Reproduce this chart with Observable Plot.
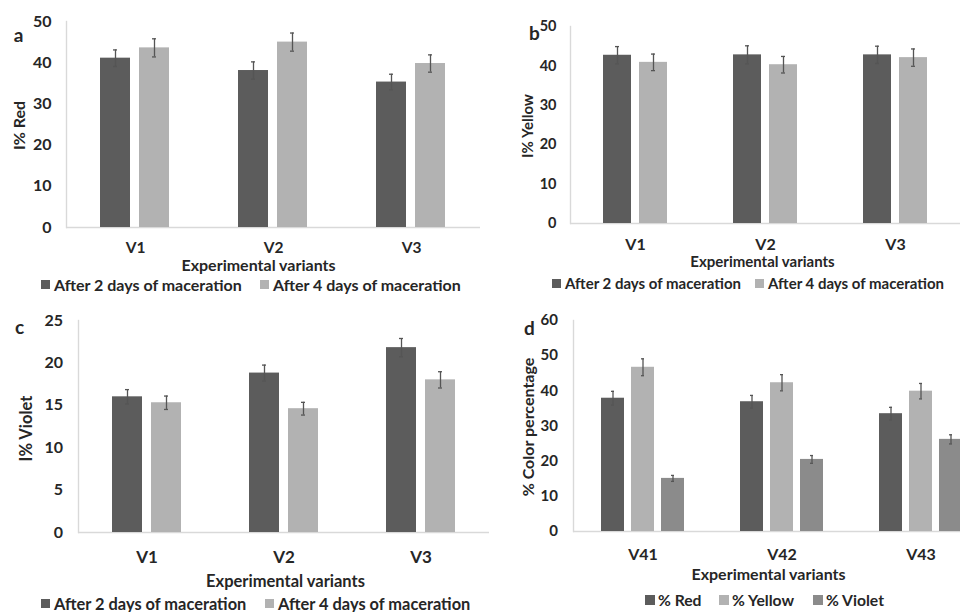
<!DOCTYPE html>
<html>
<head>
<meta charset="utf-8">
<script src="https://cdn.jsdelivr.net/npm/d3@7"></script>
<script src="https://cdn.jsdelivr.net/npm/@observablehq/plot@0.6"></script>
<style>
  html, body { margin: 0; padding: 0; background: #fff; }
  #root { position: relative; width: 960px; height: 612px; overflow: hidden; background: #fff; font-family: Lato, sans-serif; font-weight: bold; color: #262626; }
  .lg { position: absolute; display: flex; align-items: center; white-space: nowrap; }
  .sw { display: inline-block; }
</style>
</head>
<body>
<div id="root"></div>
<script>
// ---------- data ----------
const variantsABC = ["V1", "V2", "V3"];
const variantsD = ["V41", "V42", "V43"];
const seriesMac = ["After 2 days of maceration", "After 4 days of maceration"];
const seriesColor = ["% Red", "% Yellow", "% Violet"];

// panel a: I% Red
const redDay2 = [41.1, 38.1, 35.3];
const redDay4 = [43.6, 45.0, 39.8];
const redDay2Err = [2.0, 2.1, 1.9];
const redDay4Err = [2.2, 2.2, 2.1];

// panel b: I% Yellow
const yellowDay2 = [42.7, 42.8, 42.8];
const yellowDay4 = [40.9, 40.3, 42.1];
const yellowDay2Err = [2.2, 2.3, 2.2];
const yellowDay4Err = [2.1, 2.1, 2.2];

// panel c: I% Violet
const violetDay2 = [16.0, 18.8, 21.8];
const violetDay4 = [15.3, 14.6, 18.0];
const violetDay2Err = [0.85, 0.94, 1.08];
const violetDay4Err = [0.79, 0.75, 0.96];

// panel d: % Color percentage
const pctRed = [37.9, 36.9, 33.5];
const pctYellow = [46.7, 42.3, 39.9];
const pctViolet = [15.1, 20.5, 26.2];
const pctRedErr = [1.95, 1.8, 1.8];
const pctYellowErr = [2.4, 2.3, 2.2];
const pctVioletErr = [0.85, 1.1, 1.3];

const ticksA = [0, 10, 20, 30, 40, 50];
const ticksB = [0, 10, 20, 30, 40, 50];
const ticksC = [0, 5, 10, 15, 20, 25];
const ticksD = [0, 10, 20, 30, 40, 50, 60];

const xTitle = "Experimental variants";

// ---------- helpers ----------
const root = document.getElementById("root");
const DARK = "#5c5c5c", LIGHT = "#b2b2b2", MID = "#8b8b8b";
const AXIS = "#d9d9d9", ERR = "#555555", TXT = "#262626";

function rowsOf(variants, series, values, errs) {
  const rows = [];
  variants.forEach((v, i) => series.forEach((s, j) => rows.push({variant: v, series: s, value: values[j][i], err: errs[j][i]})));
  return rows;
}

function panel(o) {
  const rows = rowsOf(o.variants, o.series, o.values, o.errs);
  const fs = o.fs;
  const svg = Plot.plot({
    width: o.width, height: o.height,
    marginLeft: o.ml, marginRight: 0, marginTop: o.mt, marginBottom: o.mb,
    style: {fontFamily: "Lato, sans-serif", fontWeight: "bold", fontSize: fs + "px", color: TXT, background: "transparent", overflow: "visible"},
    fx: {domain: o.variants, padding: 0, label: null},
    x: {domain: o.series, paddingInner: o.pi, paddingOuter: o.po, axis: null},
    y: {domain: o.yDomain, label: null},
    color: {domain: o.series, range: o.colors},
    marks: [
      Plot.ruleY([0], {stroke: AXIS, strokeWidth: 1.4}),
      Plot.frame({anchor: "left", stroke: AXIS, strokeWidth: 1.4, facetAnchor: "left"}),
      Plot.axisY({ticks: o.ticks, tickSize: 0, tickPadding: o.ytp, fontSize: o.yfs, label: null, fill: TXT}),
      Plot.axisFx({anchor: "bottom", tickSize: 0, tickPadding: o.xtp, fontSize: o.xfs, label: null, fill: TXT}),
      Plot.barY(rows, {fx: "variant", x: "series", y: "value", fill: "series"}),
      Plot.ruleX(rows, {fx: "variant", x: "series", y1: d => d.value - d.err, y2: d => d.value + d.err, stroke: ERR, strokeWidth: 1.3}),
      Plot.tickY(rows, {fx: "variant", x: "series", y: d => d.value + d.err, stroke: ERR, strokeWidth: 1.3, insetLeft: o.cap, insetRight: o.cap}),
      Plot.tickY(rows, {fx: "variant", x: "series", y: d => d.value - d.err, stroke: ERR, strokeWidth: 1.3, insetLeft: o.cap, insetRight: o.cap}),
      Plot.text([o.yLabel], {text: d => d, frameAnchor: "left", facetAnchor: "left", rotate: -90, textAnchor: "middle", lineAnchor: "middle", dx: o.ylx, dy: o.yly, fontSize: fs, fill: TXT}),
      Plot.text([o.letter], {text: d => d, frameAnchor: "top-left", facetAnchor: "left", textAnchor: "middle", lineAnchor: "middle", dx: o.lx, dy: o.ly, fontSize: 19, fill: TXT}),
      Plot.text([xTitle], {text: d => d, frameAnchor: "bottom-left", facetAnchor: "left", textAnchor: "middle", lineAnchor: "middle", dx: o.tx, dy: o.ty, fontSize: fs, fill: TXT})
    ]
  });
  svg.style.position = "absolute";
  svg.style.left = o.left + "px";
  svg.style.top = o.top + "px";
  root.appendChild(svg);

  // legend
  o.series.forEach((s, j) => {
    const item = document.createElement("div");
    item.className = "lg";
    item.style.left = o.legend.x[j] + "px";
    item.style.top = (o.legend.y - 10) + "px";
    item.style.height = "20px";
    item.style.fontSize = o.legend.fs + "px";
    const sw = document.createElement("span");
    sw.className = "sw";
    sw.style.width = o.legend.sw + "px";
    sw.style.height = o.legend.sw + "px";
    sw.style.background = o.colors[j];
    sw.style.marginRight = o.legend.gap + "px";
    const tx = document.createElement("span");
    tx.textContent = s;
    item.appendChild(sw);
    item.appendChild(tx);
    root.appendChild(item);
  });
}

// panel a
panel({
  left: 0, top: 0, width: 480, height: 300, ml: 65, mt: 21, mb: 73,
  variants: variantsABC, series: seriesMac, colors: [DARK, LIGHT],
  values: [redDay2, redDay4], errs: [redDay2Err, redDay4Err],
  yDomain: [0, 50], ticks: ticksA, pi: 0.225, po: 0.841, cap: 13,
  fs: 16, yfs: 16, xfs: 15.5, ytp: 15, xtp: 14, yLabel: "I% Red", ylx: -47, yly: 1,
  letter: "a", lx: -48, ly: 14, tx: 192, ty: 38.5,
  legend: {y: 284, x: [41, 260], sw: 9, gap: 4, fs: 16}
});

// panel b
panel({
  left: 480, top: 0, width: 481, height: 300, ml: 89, mt: 26, mb: 77,
  variants: variantsABC, series: seriesMac, colors: [DARK, LIGHT],
  values: [yellowDay2, yellowDay4], errs: [yellowDay2Err, yellowDay4Err],
  yDomain: [0, 50], ticks: ticksB, pi: 0.216, po: 0.874, cap: 12,
  fs: 15, yfs: 14.5, xfs: 16, ytp: 14, xtp: 15, yLabel: "I% Yellow", ylx: -42, yly: 1,
  letter: "b", lx: -36, ly: 7, tx: 192, ty: 38.5,
  legend: {y: 283, x: [552, 755], sw: 9, gap: 4, fs: 15}
});

// panel c
panel({
  left: 0, top: 300, width: 490, height: 312, ml: 77, mt: 20, mb: 80,
  variants: variantsABC, series: seriesMac, colors: [DARK, LIGHT],
  values: [violetDay2, violetDay4], errs: [violetDay2Err, violetDay4Err],
  yDomain: [0, 25], ticks: ticksC, pi: 0.228, po: 0.856, cap: 13,
  fs: 16.5, yfs: 16, xfs: 17, ytp: 15.5, xtp: 18, yLabel: "I% Violet", ylx: -52, yly: 2,
  letter: "c", lx: -59, ly: 7, tx: 207, ty: 49,
  legend: {y: 603, x: [41, 265], sw: 9, gap: 4, fs: 16.4}
});

// panel d
panel({
  left: 480, top: 300, width: 510, height: 312, ml: 93, mt: 20, mb: 81,
  variants: variantsD, series: seriesColor, colors: [DARK, LIGHT, MID],
  values: [pctRed, pctYellow, pctViolet], errs: [pctRedErr, pctYellowErr, pctVioletErr],
  yDomain: [0, 60], ticks: ticksD, pi: 0.218, po: 0.864, cap: 10,
  fs: 16, yfs: 15, xfs: 16, ytp: 15.5, xtp: 17, yLabel: "% Color percentage", ylx: -45, yly: 1,
  letter: "d", lx: -44, ly: 8, tx: 195, ty: 43,
  legend: {y: 600, x: [645, 719, 813], sw: 10, gap: 3, fs: 15.7}
});
</script>
</body>
</html>
